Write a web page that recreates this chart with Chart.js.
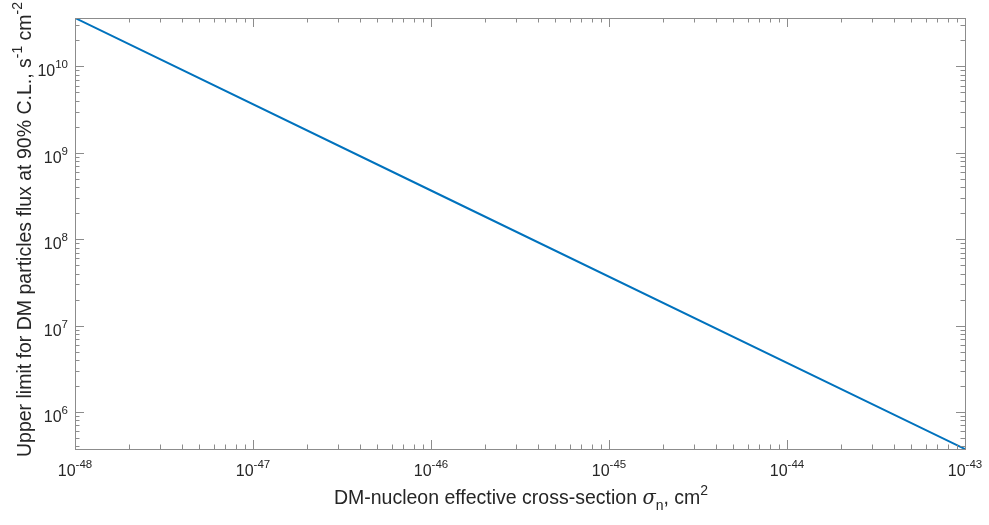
<!DOCTYPE html>
<html>
<head>
<meta charset="utf-8">
<script src="https://cdn.jsdelivr.net/npm/chart.js@4"></script>
<style>
    html, body { margin: 0; padding: 0; background: #fff; }
    #wrap { width: 989px; height: 525px; }
</style>
</head>
<body>
<div id="wrap"><canvas id="fluxChart"></canvas></div>
<script>
// Dane
const crossSection = [1e-48, 1e-46, 1e-43];
const fluxLimit = [3.63e10, 3.66e8, 3.73e5];

const xTickExponents = [-48, -47, -46, -45, -44, -43];
const yTickExponents = [6, 7, 8, 9, 10];

const AXIS_COLOR = '#8c8c8c';
const TEXT_COLOR = '#262626';
const FONT = 'Liberation Sans, Arial, Helvetica, sans-serif';

// Rysowanie tekstu z indeksami górnymi / dolnymi
function drawRich(ctx, parts, x, y, align) {
    const widths = parts.map(p => {
        ctx.font = `${p.italic ? 'italic ' : ''}${p.size}px ${p.font || FONT}`;
        return ctx.measureText(p.text).width;
    });
    const total = widths.reduce((a, b) => a + b, 0);
    let cx = align === 'center' ? x - total / 2 : (align === 'right' ? x - total : x);
    parts.forEach((p, i) => {
        ctx.font = `${p.italic ? 'italic ' : ''}${p.size}px ${p.font || FONT}`;
        ctx.textAlign = 'left';
        ctx.textBaseline = 'alphabetic';
        ctx.fillText(p.text, cx, y + (p.dy || 0));
        cx += widths[i];
    });
}

function powerLabel(exp) {
    return [
        { text: '10', size: 16 },
        { text: String(exp), size: 11.5, dy: -8 }
    ];
}

// Ramka, ticki do środka i etykiety w stylu MATLAB
const matlabAxes = {
    id: 'matlabAxes',
    afterDatasetsDraw(chart) {
        const { ctx, chartArea: a, scales } = chart;
        const xs = scales.x, ys = scales.y;
        ctx.save();
        ctx.strokeStyle = AXIS_COLOR;
        ctx.lineWidth = 1;
        ctx.strokeRect(Math.round(a.left) + 0.5, Math.round(a.top) + 0.5,
            Math.round(a.right - a.left), Math.round(a.bottom - a.top));

        const major = 9, minor = 4.5;
        ctx.beginPath();
        for (let e = -48; e <= -43; e++) {
            for (let m = 1; m <= 9; m++) {
                const v = m * Math.pow(10, e);
                if (v < xs.min * 0.999 || v > xs.max * 1.001) continue;
                const px = Math.round(xs.getPixelForValue(v)) + 0.5;
                const len = m === 1 ? major : minor;
                ctx.moveTo(px, a.bottom); ctx.lineTo(px, a.bottom - len);
                ctx.moveTo(px, a.top); ctx.lineTo(px, a.top + len);
            }
        }
        for (let e = 5; e <= 10; e++) {
            for (let m = 1; m <= 9; m++) {
                const v = m * Math.pow(10, e);
                if (v < ys.min || v > ys.max) continue;
                const py = Math.round(ys.getPixelForValue(v)) + 0.5;
                const len = m === 1 ? major : minor;
                ctx.moveTo(a.left, py); ctx.lineTo(a.left + len, py);
                ctx.moveTo(a.right, py); ctx.lineTo(a.right - len, py);
            }
        }
        ctx.stroke();
        ctx.restore();
    },
    afterDraw(chart) {
        const { ctx, chartArea: a, scales } = chart;
        ctx.save();
        ctx.fillStyle = TEXT_COLOR;

        xTickExponents.forEach(e => {
            const px = scales.x.getPixelForValue(Math.pow(10, e));
            drawRich(ctx, powerLabel(e), px, a.bottom + 27, 'center');
        });
        yTickExponents.forEach(e => {
            const py = scales.y.getPixelForValue(Math.pow(10, e));
            drawRich(ctx, powerLabel(e), a.left - 7, py + 10, 'right');
        });

        // Tytuł osi X
        drawRich(ctx, [
            { text: 'DM-nucleon effective cross-section ', size: 19.5 },
            { text: 'σ', size: 19.5, italic: true, font: 'DejaVu Serif, serif' },
            { text: 'n', size: 14, dy: 6 },
            { text: ', cm', size: 19.5 },
            { text: '2', size: 14, dy: -9 }
        ], (a.left + a.right) / 2 + 1, 504, 'center');

        // Tytuł osi Y
        ctx.translate(31, (a.top + a.bottom) / 2 - 4);
        ctx.rotate(-Math.PI / 2);
        drawRich(ctx, [
            { text: 'Upper limit for DM particles flux at 90% C.L., s', size: 19.5 },
            { text: '-1', size: 14, dy: -9 },
            { text: ' cm', size: 19.5 },
            { text: '-2', size: 14, dy: -9 }
        ], 0, 0, 'center');
        ctx.restore();
    }
};

const ctx = document.getElementById('fluxChart');
new Chart(ctx, {
    type: 'line',
    data: {
        datasets: [{
            data: crossSection.map((x, i) => ({ x: x, y: fluxLimit[i] })),
            borderColor: '#0072BD',
            borderWidth: 2,
            pointRadius: 0,
            fill: false,
            tension: 0
        }]
    },
    options: {
        responsive: true,
        maintainAspectRatio: false,
        animation: false,
        layout: {
            padding: { left: 75, top: 18, right: 24, bottom: 76 }
        },
        plugins: {
            legend: { display: false },
            tooltip: { enabled: false }
        },
        scales: {
            x: {
                type: 'logarithmic',
                display: false,
                min: 1e-48,
                max: 1e-43
            },
            y: {
                type: 'logarithmic',
                display: false,
                min: fluxLimit[fluxLimit.length - 1],
                max: fluxLimit[0]
            }
        }
    },
    plugins: [matlabAxes]
});
</script>
</body>
</html>
